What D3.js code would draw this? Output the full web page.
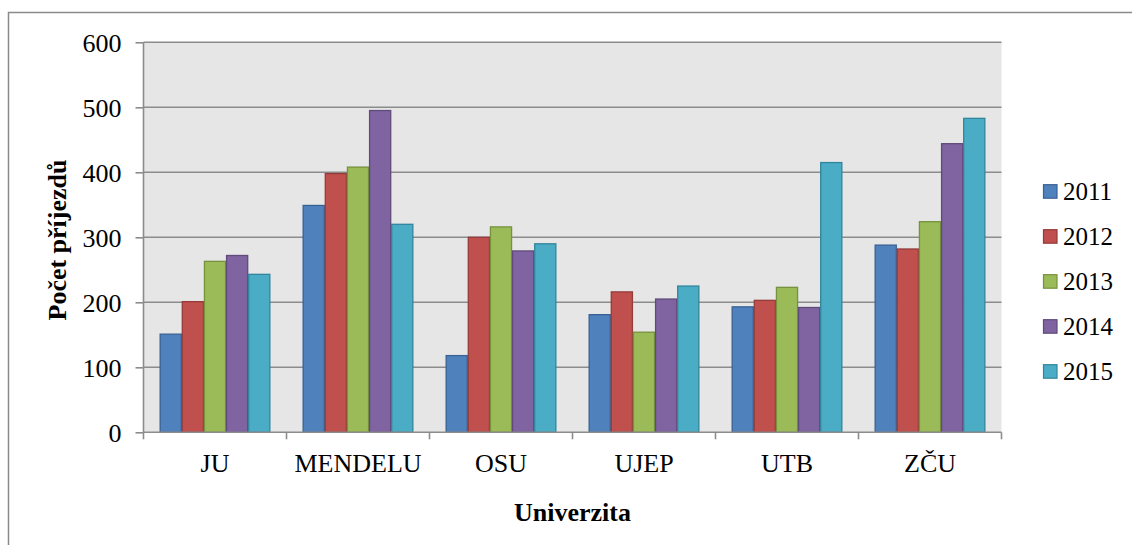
<!DOCTYPE html>
<html><head><meta charset="utf-8">
<script src="https://cdn.jsdelivr.net/npm/d3@7"></script>
<style>body{margin:0;background:#fff}svg{display:block}</style>
</head><body>
<svg id="c" width="1132" height="545"></svg>
<script>
const categories = ["JU","MENDELU","OSU","UJEP","UTB","ZČU"];
const years = ["2011","2012","2013","2014","2015"];
const v2011 = [151, 349, 118, 181, 193, 288];
const v2012 = [201, 398, 300, 216, 203, 282];
const v2013 = [263, 408, 316, 154, 223, 324];
const v2014 = [272, 495, 279, 205, 192, 444];
const v2015 = [243, 320, 290, 225, 415, 483];
const yTicks = [0,100,200,300,400,500,600];
const series = [v2011, v2012, v2013, v2014, v2015];
const fills = ["#4F81BD","#C0504D","#9BBB59","#8064A2","#4BACC6"];
const strokes = ["#3A6194","#953B39","#76923C","#5F4A7B","#31859C"];

const svg = d3.select("#c");
const font = "Liberation Serif";
const L = 143.5, R = 1001.5, T = 42.3, B = 432.3;

svg.append("rect").attr("x",8.5).attr("y",12.5).attr("width",1140).attr("height",545)
  .attr("fill","#fff").attr("stroke","#8a8a8a").attr("stroke-width",1.5);

const x0 = d3.scaleBand().domain(categories).range([L,R]).padding(0);
const bw = x0.bandwidth();
const x1 = d3.scaleBand().domain(years).range([bw*0.113, bw*0.887]).padding(0);
const y = d3.scaleLinear().domain([0,600]).range([B,T]);

svg.append("rect").attr("x",L).attr("y",T).attr("width",R-L).attr("height",B-T).attr("fill","#E6E6E6");

// gridlines
svg.append("g").selectAll("line").data(yTicks.filter(d=>d>0)).join("line")
  .attr("x1",L).attr("x2",R).attr("y1",d=>y(d)).attr("y2",d=>y(d))
  .attr("stroke","#8C8C8C").attr("stroke-width",1.6);

// bars
const rows = [];
categories.forEach((c,i)=>years.forEach((yr,j)=>rows.push({c,yr,j,v:series[j][i]})));
svg.append("g").selectAll("rect").data(rows).join("rect")
  .attr("x",d=>x0(d.c)+x1(d.yr)+0.5)
  .attr("y",d=>y(d.v))
  .attr("width",x1.bandwidth()-1)
  .attr("height",d=>B-y(d.v))
  .attr("fill",d=>fills[d.j]).attr("stroke",d=>strokes[d.j]).attr("stroke-width",1.3);

// y axis
const ya = svg.append("g").attr("transform",`translate(${L},0)`)
  .call(d3.axisLeft(y).tickValues(yTicks).tickSize(8).tickPadding(14).tickFormat(d3.format("d")));
ya.select(".domain").attr("stroke","#8C8C8C").attr("stroke-width",1.6).attr("d",`M0,${T}V${B}`);
ya.selectAll(".tick line").attr("stroke","#8C8C8C").attr("stroke-width",1.6);
ya.selectAll("text").style("font-family",font).style("font-size","26px").attr("fill","#000").attr("dy","0.34em");

// x axis
const xa = svg.append("g").attr("transform",`translate(0,${B})`)
  .call(d3.axisBottom(x0).tickSize(0).tickPadding(0));
xa.select(".domain").attr("stroke","#8C8C8C").attr("stroke-width",1.6).attr("d",`M${L},0H${R}`);
xa.selectAll("text").style("font-family",font).style("font-size","26px").attr("fill","#000")
  .attr("y",40).attr("dy",0);
svg.append("g").selectAll("line").data(d3.range(categories.length+1)).join("line")
  .attr("x1",i=>L+i*bw).attr("x2",i=>L+i*bw).attr("y1",B).attr("y2",B+7)
  .attr("stroke","#8C8C8C").attr("stroke-width",1.6);

// titles
svg.append("text").attr("x",(L+R)/2).attr("y",521).attr("text-anchor","middle")
  .style("font-family",font).style("font-size","26px").attr("font-weight","bold").text("Univerzita");
svg.append("text").attr("transform","translate(65.5,240) rotate(-90)").attr("text-anchor","middle")
  .style("font-family",font).style("font-size","26px").attr("font-weight","bold").text("Počet příjezdů");

// legend
const lg = svg.append("g").selectAll("g").data(years).join("g")
  .attr("transform",(d,i)=>`translate(1043,${191.7+i*45})`);
lg.append("rect").attr("x",0.5).attr("y",-7).attr("width",13.5).attr("height",13.5)
  .attr("fill",(d,i)=>fills[i]).attr("stroke",(d,i)=>strokes[i]).attr("stroke-width",1.2);
lg.append("text").attr("x",20).attr("y",0).attr("dy","0.35em")
  .style("font-family",font).style("font-size","25px").text(d=>d);
</script>
</body></html>
